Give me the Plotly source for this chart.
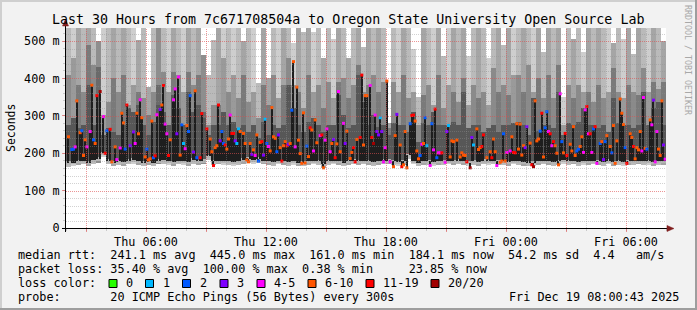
import plotly.graph_objects as go

# ---------------- data ----------------
START_HOUR = 2.0          # window start: Thu 02:00 (hours since Thu 00:00)
SPAN_HOURS = 30.0
SLOT_HOURS = 5.0 / 60.0   # 5-minute median samples
COL_HOURS = 0.25          # 15-minute smoke columns
Y_MAX = 535.0             # ms

loss_labels = ["0", "1", "2", "3", "4-5", "6-10", "11-19", "20/20"]
loss_colors = ["#26ff00", "#00b8ff", "#0059ff", "#7e00ff", "#ff00ff", "#ff5500", "#ff0000", "#a10000"]

x_tick_hours = [6, 12, 18, 24, 30]
x_tick_text = ["Thu 06:00", "Thu 12:00", "Thu 18:00", "Fri 00:00", "Fri 06:00"]
y_tick_vals = [0, 100, 200, 300, 400, 500]
y_tick_text = ["0", "100 m", "200 m", "300 m", "400 m", "500 m"]

# smoke (ms) per 15-minute column: outer top, middle band top, dark band top, bottom, shade class
smoke_top = [540, 540, 540, 540, 540, 540, 500, 540, 540, 540, 540, 540, 540, 540, 503, 540, 378, 540, 540, 540,
             540, 540, 540, 540, 540, 540, 540, 463, 409, 503,
             540, 540, 540, 540, 540, 500, 540, 540, 387, 540, 400, 540, 540, 540, 540, 495, 540, 525, 540, 525,
             540, 455, 540, 505, 540, 540, 455, 540, 540, 485,
             540, 540, 540, 540, 280, 540, 540, 540, 540, 480, 350, 540, 540, 540, 540, 460, 540, 540, 540, 540,
             460, 540, 540, 540, 455, 540, 540, 490, 540, 540,
             540, 540, 540, 540, 540, 470, 540, 540, 540, 350, 540, 505, 540, 470, 540, 540, 540, 540, 540, 495,
             540, 505, 540, 465, 540, 540, 540, 540, 540, 500]
smoke_mid = [409, 454, 382, 365, 490, 436, 431, 302, 338, 400, 365, 409, 329, 382, 365, 347, 302, 365, 382, 418,
             365, 418, 409, 365, 418, 382, 409, 311, 276, 329,
             329, 454, 365, 409, 347, 409, 338, 365, 293, 382, 329, 409, 347, 382, 454, 382, 365, 320, 409, 365,
             382, 320, 391, 347, 391, 400, 347, 382, 436, 365,
             382, 409, 365, 391, 267, 391, 365, 409, 347, 365, 276, 356, 382, 329, 409, 320, 382, 365, 338, 400,
             329, 382, 347, 365, 329, 427, 365, 382, 356, 409,
             409, 365, 436, 365, 400, 347, 409, 347, 436, 276, 382, 347, 382, 365, 365, 338, 382, 347, 365, 427,
             365, 347, 382, 365, 356, 427, 365, 391, 373, 391]
smoke_low = [275, 293, 267, 275, 382, 275, 356, 249, 267, 258, 249, 276, 320, 311, 329, 276, 249, 284, 329, 311,
             276, 356, 320, 276, 365, 311, 329, 293, 249, 276,
             276, 311, 275, 284, 267, 275, 258, 275, 240, 284, 249, 275, 267, 275, 382, 320, 275, 258, 284, 293,
             275, 258, 275, 275, 356, 302, 267, 275, 409, 338,
             275, 302, 270, 275, 249, 280, 275, 275, 258, 311, 231, 280, 275, 311, 275, 275, 275, 284, 275, 365,
             267, 275, 275, 258, 267, 275, 258, 275, 275, 280,
             284, 275, 250, 347, 260, 275, 275, 267, 365, 249, 280, 275, 284, 320, 275, 275, 267, 275, 258, 347,
             280, 275, 275, 267, 275, 365, 275, 320, 338, 275]
smoke_bot = [164, 165, 168, 170, 165, 172, 175, 190, 170, 165, 168, 166, 170, 172, 168, 165, 168, 165, 170, 172,
             168, 166, 170, 168, 166, 172, 168, 170, 182, 168,
             170, 168, 168, 166, 168, 172, 175, 172, 175, 170, 168, 166, 170, 168, 166, 168, 165, 165, 168, 170,
             168, 160, 168, 170, 168, 165, 168, 170, 168, 170,
             168, 166, 168, 170, 170, 168, 166, 168, 185, 170, 165, 168, 168, 166, 168, 168, 170, 168, 170, 168,
             165, 168, 166, 170, 168, 170, 168, 168, 166, 170,
             168, 166, 165, 165, 168, 170, 168, 166, 168, 172, 168, 170, 166, 168, 168, 170, 168, 166, 170, 166,
             168, 166, 168, 168, 170, 168, 168, 166, 168, 168]
smoke_shade = [1, 0, 2, 1, 2, 1, 3, 0, 1, 2, 1, 2, 1, 0, 2, 1, 2, 1, 3, 1, 0, 2, 1, 0, 2, 1, 2, 3, 1, 1,
               2, 0, 1, 0, 1, 2, 1, 0, 1, 2, 2, 1, 0, 2, 1, 0, 2, 1, 2, 0, 1, 2, 1, 0, 2, 1, 2, 1, 2, 1,
               2, 1, 2, 1, 2, 1, 0, 2, 1, 0, 1, 2, 1, 0, 2, 1, 0, 2, 1, 2, 0, 1, 2, 1, 0, 1, 2, 1, 2, 0,
               1, 2, 1, 0, 2, 1, 2, 1, 2, 0, 1, 2, 1, 0, 2, 1, 2, 1, 0, 2, 1, 0, 2, 1, 2, 1, 0, 2, 1, 2]

# median rtt samples: 5-minute slot index, median (ms), loss colour class
med_slot = [1, 3, 4, 5, 6, 8, 9, 10, 11, 12, 14, 15, 16, 17, 18, 20, 22, 23, 24, 26,
            27, 29, 30, 32, 33, 34, 35, 36, 38, 40, 41, 42, 43, 44, 45, 47, 48, 49, 50, 51,
            52, 53, 54, 56, 57, 58, 59, 60, 61, 62, 64, 65, 66, 67, 68, 69, 70, 71, 72, 73,
            74, 76, 77, 78, 80, 81, 84, 86, 87, 88, 89, 90,
            91, 92, 93, 94, 95, 96, 97, 98, 99, 100, 101, 102, 103, 104, 106, 107, 108, 109, 110, 111,
            112, 113, 114, 115, 116, 117, 118, 119, 120, 121, 122, 123, 124, 125, 126, 127, 128, 129, 130, 131,
            132, 133, 134, 135, 136, 137, 138, 139, 140, 141, 142, 143, 144, 145, 146, 147, 148, 149, 150, 152,
            153, 154, 155, 156, 158, 159, 160, 161, 162, 163, 164, 166, 167, 168, 170, 171, 172, 173, 174, 176,
            177, 178, 179,
            180, 182, 183, 184, 185, 186, 187, 188, 189, 190, 191, 192, 194, 196, 197, 198, 200, 201, 202, 203,
            204, 206, 207, 208, 209, 210, 211, 212, 213, 214, 215, 216, 218, 219, 220, 221, 222, 223, 224, 225,
            227, 228, 229, 230, 231, 232, 234, 236, 237, 238, 239, 240, 242, 243, 244, 246, 247, 248, 249, 250,
            252, 254, 255, 256, 257, 258, 260, 261, 262, 263, 264, 266, 267, 268,
            269, 270, 271, 272, 273, 274, 275, 276, 278, 279, 280, 281, 282, 283, 284, 285, 286, 287, 288, 289,
            290, 291, 292, 293, 294, 295, 296, 297, 298, 299, 300, 302, 303, 304, 305, 306, 307, 308, 309, 310,
            311, 312, 313, 314, 315, 316, 317, 318, 320, 321, 322, 323, 324, 326, 327, 328, 329, 330, 332, 333,
            334, 335, 336, 338, 339, 340, 341, 342, 343, 344, 345, 346, 347, 348, 350, 351, 352, 353, 354, 355,
            356, 357, 358, 359]
med_ms = [244, 210, 211, 217, 340, 255, 260, 194, 236, 217, 258, 382, 236, 226, 354, 365, 298, 200, 260, 264,
          177, 217, 183, 214, 307, 281, 211, 329, 220, 257, 226, 307, 252, 343, 295, 190, 211, 182, 185, 286,
          188, 193, 303, 317, 329, 381, 278, 252, 194, 236, 343, 372, 252, 404, 195, 276, 226, 212, 274, 258,
          354, 203, 367, 188, 188, 306, 265, 238, 204, 167, 215, 220,
          329, 233, 258, 226, 222, 211, 238, 302, 253, 253, 233, 226, 265, 258, 253, 226, 182, 177, 226, 197,
          209, 194, 249, 179, 229, 231, 195, 291, 226, 218, 206, 322, 244, 240, 204, 249, 215, 179, 220, 231,
          220, 224, 226, 315, 445, 217, 377, 235, 199, 173, 308, 174, 219, 191, 268, 262, 206, 289, 228, 247,
          249, 161, 235, 265, 204, 226, 237, 188, 225, 365, 204, 280, 226, 259, 186, 202, 215, 177, 237, 242,
          409, 222, 354,
          354, 381, 242, 226, 302, 258, 249, 295, 258, 177, 215, 393, 177, 164, 247, 304, 222, 164, 169, 258,
          161, 279, 301, 302, 286, 206, 185, 194, 224, 226, 295, 220, 167, 279, 209, 318, 188, 201, 201, 201,
          176, 258, 274, 190, 233, 231, 235, 190, 201, 195, 194, 177, 161, 242, 222, 265, 210, 215, 218, 249,
          188, 204, 188, 238, 204, 167, 176, 179, 252, 179, 202, 206, 244, 202,
          201, 279, 211, 278, 195, 220, 215, 271, 227, 169, 164, 340, 233, 238, 259, 307, 190, 268, 311, 258,
          252, 220, 231, 220, 200, 169, 359, 231, 201, 253, 194, 224, 206, 271, 194, 206, 211, 218, 244, 202,
          316, 325, 252, 252, 202, 265, 271, 173, 226, 231, 183, 231, 247, 218, 201, 274, 173, 233, 345, 307,
          277, 215, 173, 252, 242, 218, 185, 215, 209, 258, 206, 349, 213, 211, 289, 276, 342, 177, 258, 211,
          194, 340, 222, 184]
med_loss = [5, 2, 2, 4, 5, 5, 2, 5, 5, 4, 4, 5, 2, 5, 6, 7, 4, 6, 2, 6,
            5, 5, 4, 4, 5, 5, 2, 6, 3, 3, 4, 5, 5, 4, 5, 5, 2, 5, 5, 5,
            2, 6, 4, 3, 5, 6, 4, 4, 6, 5, 4, 4, 3, 4, 5, 2, 1, 4, 5, 2,
            2, 3, 5, 2, 6, 6, 6, 5, 5, 6, 5, 5,
            6, 3, 2, 2, 6, 5, 5, 4, 6, 6, 3, 1, 1, 5, 5, 5, 5, 5, 5, 3,
            5, 4, 5, 2, 5, 6, 3, 1, 2, 4, 5, 5, 5, 5, 2, 3, 5, 6, 5, 5,
            6, 3, 5, 2, 5, 4, 5, 5, 5, 5, 5, 5, 2, 5, 6, 5, 4, 5, 5, 4,
            6, 5, 4, 4, 4, 5, 3, 6, 5, 4, 5, 4, 3, 5, 5, 5, 6, 6, 5, 6,
            6, 5, 5,
            5, 4, 6, 7, 4, 3, 3, 1, 3, 4, 4, 5, 4, 5, 5, 3, 5, 6, 5, 5,
            5, 2, 6, 6, 5, 5, 5, 2, 4, 5, 2, 1, 4, 2, 4, 6, 2, 4, 4, 6,
            4, 3, 1, 5, 5, 5, 5, 5, 5, 5, 5, 6, 7, 3, 1, 5, 5, 5, 6, 6,
            5, 5, 6, 5, 5, 4, 5, 5, 2, 5, 4, 4, 5, 6,
            6, 5, 5, 5, 5, 5, 3, 3, 5, 6, 7, 5, 5, 5, 2, 6, 5, 2, 2, 4,
            6, 4, 6, 5, 5, 5, 4, 2, 5, 6, 6, 5, 5, 5, 5, 2, 2, 5, 5, 4,
            4, 6, 4, 6, 4, 2, 6, 4, 2, 5, 3, 2, 5, 5, 2, 5, 5, 5, 5, 5,
            5, 2, 6, 5, 5, 6, 5, 5, 5, 5, 4, 4, 5, 2, 5, 4, 3, 4, 4, 5,
            5, 5, 3, 4]

rtt_avg, rtt_max, rtt_min, rtt_now, rtt_sd, rtt_ams = "241.1", "445.0", "161.0", "184.1", "54.2", "4.4"
loss_avg, loss_max, loss_min, loss_now = "35.40", "100.00", "0.38", "23.85"
probe_text = "20 ICMP Echo Pings (56 Bytes) every 300s"
stamp_text = "Fri Dec 19 08:00:43 2025"
title_text = "Last 30 Hours from 7c671708504a to Oregon State University Open Source Lab"

# ---------------- styling ----------------
FONT = "DejaVu Sans Mono"
BACK = "#f2f2f2"
UPPER_COLORS = ["#cecece", "#bababa", "#a5a5a5", "#8e8e8e"]
MID_COLORS = ["#9a9a9a", "#8a8a8a", "#7a7a7a", "#6a6a6a"]
BOTTOM_COLOR = "#b4b4b4"
LOW_COLOR = "#575757"
CORE_COLOR = "#1e1e1e"
MGRID = "rgba(222,79,79,0.6)"
GRID = "rgba(143,143,143,0.4)"
ARROW = "#801f1f"

W, H = 697, 310
L, R, T, B = 66, 31, 28, 82
PW, PH = W - L - R, H - T - B


def px(x):
    return (x - L) / PW


def py(y):
    return (T + PH - y) / PH


fig = go.Figure()

col_x = [START_HOUR + (j + 0.5) * COL_HOURS for j in range(len(smoke_top))]
fig.add_trace(go.Bar(x=col_x, base=smoke_bot, y=[t - b for t, b in zip(smoke_top, smoke_bot)],
                     width=COL_HOURS, marker=dict(color=[UPPER_COLORS[s] for s in smoke_shade], line=dict(width=0)),
                     hoverinfo="skip"))
fig.add_trace(go.Bar(x=col_x, base=[b + 5 for b in smoke_bot], y=[m - b - 5 for m, b in zip(smoke_mid, smoke_bot)],
                     width=COL_HOURS, marker=dict(color=[MID_COLORS[s] for s in smoke_shade], line=dict(width=0)),
                     hoverinfo="skip"))
fig.add_trace(go.Bar(x=col_x, base=[b + 5 for b in smoke_bot], y=[9] * len(smoke_bot),
                     width=COL_HOURS, marker=dict(color=BOTTOM_COLOR, line=dict(width=0)), hoverinfo="skip"))
fig.add_trace(go.Bar(x=col_x, base=[b + 14 for b in smoke_bot],
                     y=[lo - b - 14 for lo, b in zip(smoke_low, smoke_bot)],
                     width=COL_HOURS, marker=dict(color=LOW_COLOR, line=dict(width=0)), hoverinfo="skip"))

slot_x = [START_HOUR + (s + 0.5) * SLOT_HOURS for s in med_slot]
core_base = [smoke_bot[s // 3] + 10 for s in med_slot]
fig.add_trace(go.Bar(x=slot_x, base=core_base, y=[m - b for m, b in zip(med_ms, core_base)],
                     width=SLOT_HOURS * 0.7, marker=dict(color=CORE_COLOR, line=dict(width=0)), hoverinfo="skip"))
fig.add_trace(go.Scatter(x=slot_x, y=med_ms, mode="markers",
                         marker=dict(symbol="square", size=3, color=[loss_colors[c] for c in med_loss],
                                     line=dict(width=0)), hoverinfo="skip"))

# grid (drawn above the smoke, as rrdtool does), snapped to whole pixels
shapes = []
x0, x1 = START_HOUR, START_HOUR + SPAN_HOURS
for h in range(int(x0) + 1, int(x1) + 1):
    if x0 < h < x1:
        xp = round(L + (h - x0) / SPAN_HOURS * PW) + 0.5
        shapes.append(dict(type="line", xref="paper", yref="paper", x0=px(xp), x1=px(xp), y0=0, y1=1,
                           layer="above",
                           line=dict(color=MGRID if h % 3 == 0 else GRID, width=1, dash="1px,1px")))
for v in range(20, int(Y_MAX) + 1, 20):
    yp = round(T + PH - v / Y_MAX * PH) + 0.5
    shapes.append(dict(type="line", xref="paper", yref="paper", x0=0, x1=1, y0=py(yp), y1=py(yp), layer="above",
                       line=dict(color=MGRID if v % 100 == 0 else GRID, width=1, dash="1px,1px")))

# axes lines and arrows
shapes.append(dict(type="line", xref="paper", yref="paper", x0=px(62), x1=px(668), y0=py(228.5), y1=py(228.5),
                   line=dict(color="#000000", width=1), layer="above"))
shapes.append(dict(type="line", xref="paper", yref="paper", x0=px(65.5), x1=px(65.5), y0=py(232), y1=py(22),
                   line=dict(color="#000000", width=1), layer="above"))
shapes.append(dict(type="path", xref="paper", yref="paper", layer="above",
                   path=f"M {px(62.5)},{py(26)} L {px(65.5)},{py(19)} L {px(68.5)},{py(26)} Z",
                   fillcolor=ARROW, line=dict(color=ARROW, width=0.5)))
shapes.append(dict(type="path", xref="paper", yref="paper", layer="above",
                   path=f"M {px(667)},{py(225.5)} L {px(674)},{py(228.5)} L {px(667)},{py(231.5)} Z",
                   fillcolor=ARROW, line=dict(color=ARROW, width=0.5)))

# frame (3d shade)
shapes.append(dict(type="line", xref="paper", yref="paper", x0=px(0), x1=px(W), y0=py(1), y1=py(1),
                   line=dict(color="#cfcfcf", width=2)))
shapes.append(dict(type="line", xref="paper", yref="paper", x0=px(1), x1=px(1), y0=py(0), y1=py(H),
                   line=dict(color="#cfcfcf", width=2)))
shapes.append(dict(type="line", xref="paper", yref="paper", x0=px(0), x1=px(W), y0=py(H - 1), y1=py(H - 1),
                   line=dict(color="#9e9e9e", width=2)))
shapes.append(dict(type="line", xref="paper", yref="paper", x0=px(W - 1), x1=px(W - 1), y0=py(0), y1=py(H),
                   line=dict(color="#9e9e9e", width=2)))

# legend colour boxes
box_left = [109, 145.5, 182.5, 220, 257, 308, 366, 431]
label_left = [124, 161, 198, 234.5, 272, 323, 380.5, 446]
for bl, col in zip(box_left, loss_colors):
    shapes.append(dict(type="rect", xref="paper", yref="paper", x0=px(bl), x1=px(bl + 8), y0=py(287.5), y1=py(279.5),
                       fillcolor=col, line=dict(color="#000000", width=1)))


def nb(s):
    return s.replace(" ", "\u00a0")


LF = 11.8
ann = []
ann.append(dict(text=nb(title_text), x=px(348), y=py(19), xref="paper", yref="paper", showarrow=False,
                xanchor="center", yanchor="middle", font=dict(family=FONT, size=13.3, color="#000")))
line1 = (f"median rtt:  {rtt_avg} ms avg  {rtt_max} ms max  {rtt_min} ms min  {rtt_now} ms now  "
         f"{rtt_sd} ms sd  {rtt_ams}   am/s")
line2 = f"packet loss: {loss_avg} % avg  {loss_max} % max  {loss_min} % min     {loss_now} % now"
line4 = f"probe:       {probe_text}"
for txt, yy in [(line1, 255), (line2, 269), ("loss color:", 283), (line4, 297)]:
    ann.append(dict(text=nb(txt), x=px(16), y=py(yy), xref="paper", yref="paper", showarrow=False,
                    xanchor="left", yanchor="middle", font=dict(family=FONT, size=LF, color="#000")))
for ll, lab in zip(label_left, loss_labels):
    ann.append(dict(text=lab, x=px(ll), y=py(283), xref="paper", yref="paper", showarrow=False,
                    xanchor="left", yanchor="middle", font=dict(family=FONT, size=LF, color="#000")))
ann.append(dict(text=nb(stamp_text), x=px(681), y=py(297), xref="paper", yref="paper", showarrow=False,
                xanchor="right", yanchor="middle", font=dict(family=FONT, size=LF, color="#000")))
ann.append(dict(text="Seconds", x=px(11), y=py(128), xref="paper", yref="paper", showarrow=False, textangle=-90,
                xanchor="center", yanchor="middle", font=dict(family=FONT, size=11.5, color="#000")))
ann.append(dict(text=nb("RRDTOOL / TOBI OETIKER"), x=px(688), y=py(60), xref="paper", yref="paper",
                showarrow=False, textangle=90, xanchor="center", yanchor="middle",
                font=dict(family=FONT, size=8.3, color="#a8a8a8")))

tick_vals = list(range(3, 31, 3))
tick_text = [x_tick_text[x_tick_hours.index(h)] if h in x_tick_hours else "" for h in tick_vals]

fig.update_layout(
    width=W, height=H, autosize=False,
    margin=dict(l=L, r=R, t=T, b=B, pad=0),
    paper_bgcolor=BACK, plot_bgcolor="#ffffff",
    barmode="overlay", bargap=0, showlegend=False,
    shapes=shapes, annotations=ann,
    font=dict(family=FONT, size=LF, color="#000"),
    xaxis=dict(range=[x0, x1], tickvals=tick_vals, ticktext=tick_text, showgrid=False, zeroline=False,
               showline=False, ticks="outside", ticklen=3, tickcolor=MGRID,
               tickfont=dict(family=FONT, size=LF, color="#000"),
               minor=dict(dtick=1, tick0=0, ticks="outside", ticklen=2, tickcolor=GRID, showgrid=False)),
    yaxis=dict(range=[0, Y_MAX], tickvals=y_tick_vals, ticktext=y_tick_text, showgrid=False, zeroline=False,
               showline=False, ticks="outside", ticklen=3, tickcolor=MGRID,
               tickfont=dict(family=FONT, size=LF, color="#000"),
               minor=dict(dtick=20, tick0=0, ticks="outside", ticklen=2, tickcolor=GRID, showgrid=False)),
)

fig.write_html("out.html")
